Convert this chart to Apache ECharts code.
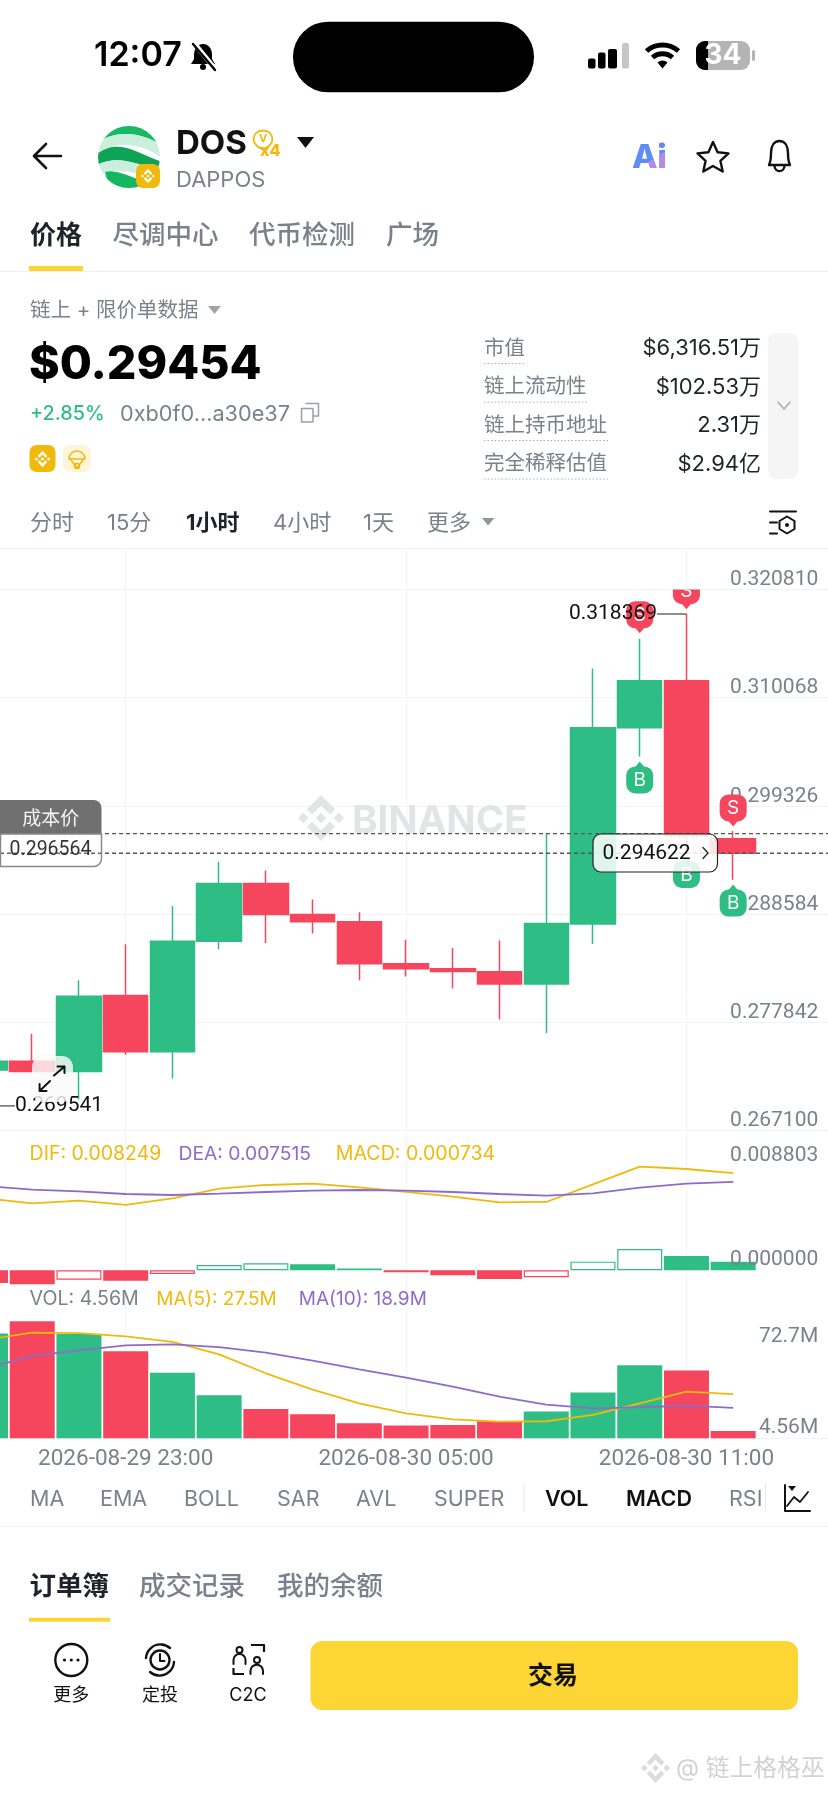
<!DOCTYPE html>
<html><head><meta charset="utf-8">
<style>html,body{margin:0;padding:0;background:#fff}#c{width:828px;height:1795px}</style>
<script src="https://cdn.jsdelivr.net/npm/echarts@6/dist/echarts.min.js"></script>
</head><body><div id="c"></div>
<script>
const categories = ['2026-08-29 20:00','2026-08-29 21:00','2026-08-29 22:00','2026-08-29 23:00','2026-08-30 00:00','2026-08-30 01:00','2026-08-30 02:00','2026-08-30 03:00','2026-08-30 04:00','2026-08-30 05:00','2026-08-30 06:00','2026-08-30 07:00','2026-08-30 08:00','2026-08-30 09:00','2026-08-30 10:00','2026-08-30 11:00','2026-08-30 12:00','2026-08-30 13:00','2026-08-30 14:00','2026-08-30 15:00'];
const dateLabelIdx = [3,9,15];
const open  = [.273098,.273971,.272946,.2805,.27492,.28589,.291622,.288547,.287826,.28365,.283157,.282853,.281639,.287598,.307072,.311741,.296063];
const close = [.273971,.272946,.280424,.27492,.28589,.291622,.288547,.287826,.28365,.283157,.282891,.281639,.287636,.307072,.311741,.296329,.294622];
const low   = [.269541,.272946,.270175,.274616,.272263,.285093,.2857,.286649,.282018,.282398,.281183,.278108,.27678,.285624,.304225,.294735,.292002];
const high  = [.2745,.276704,.282018,.285587,.289383,.293786,.292913,.290028,.288775,.286042,.285207,.285966,.296557,.312956,.315917,.318369,.296823];
const priceTicks = [0.2671,0.277842,0.288584,0.299326,0.310068,0.32081];
const costPrice = 0.296564, lastPrice = 0.294622;
const sellIdx = [14,15,16], sellTip = [.316448,.31884,.297278];
const buyIdx = [14,15,16], buyTip = [.303731,.294355,.291508];
const extremes = [[15,0.318369,-1],[0,0.269541,1]];
const dif = [.006117,.005692,.005919,.005551,.006117,.006938,.00725,.007363,.007052,.006655,.006259,.005777,.005806,.007307,.008803,.008609,.008249];
const dea = [.007165,.006853,.006712,.006485,.0064,.006514,.006655,.006768,.006825,.006768,.006655,.006485,.006344,.006542,.007023,.007363,.007515];
const hist = [-.001076,-.001189,-.000793,-.000878,-.000312,.000453,.000595,.00051,.000142,-.00017,-.000425,-.000736,-.000595,.000736,.001812,.001218,.000734];
const macdTicks = [0,0.008803];
const vol = [65.2,72.7,64.8,54.1,40.8,26.7,18.2,14.9,9.3,7.9,8.3,10.6,16.6,28.4,45.4,42.2,4.56];
const ma5 = [61.1,65.7,65.4,63.4,59.9,52.2,40.4,30.2,21.7,15.5,11.8,10.4,10.6,14.5,21.7,29.0,27.5];
const ma10 = [43.3,51.2,54.7,57.8,58.4,56.7,53.2,48.3,42.9,37.7,32.1,25.9,20.9,18.6,19.3,20.3,18.9];
const volTickText = ['72.7M','4.56M'];
const volTickAt = [63.2,6.6];

const GREEN='#2EBD85', RED='#F6465D', YEL='#F0B90B', PUR='#8E6BCB', GRAY='#7b818b', LINE='#f2f3f5', BRAND='#FCD535';
const FF='Inter,"Noto Sans CJK SC",sans-serif';
const FN='Roboto,Inter,sans-serif';
const BNB='M38.73 53.2L63.3 28.63l24.58 24.58 14.3-14.3L63.3 0 24.43 38.9zM0 63.3l14.3-14.3 14.3 14.3-14.3 14.3zM38.73 73.41L63.3 97.98l24.58-24.57 14.3 14.29-38.88 38.88-38.87-38.87-.02-.02zM98 63.31l14.3-14.3 14.3 14.3-14.3 14.3zM77.83 63.3L63.3 48.78 52.57 59.51l-1.24 1.23-2.54 2.54 14.5 14.51 14.53-14.51z';

const T=(text,x,y,size,fill,o={})=>({type:'text',z2:o.z2||0,style:{text,x,y,fontSize:size,fontFamily:o.f||FF,fontWeight:o.w||400,fill,align:o.a||'left',textAlign:o.a||'left',verticalAlign:'middle',textVerticalAlign:'middle',stroke:o.stroke,lineWidth:o.lw||0,opacity:o.op==null?1:o.op}});
const R=(x,y,w,h,r,fill,o={})=>({type:'rect',shape:{x,y,width:w,height:h,r},style:{fill,stroke:o.stroke,lineWidth:o.lw||0,shadowBlur:o.sb||0,shadowColor:o.sc||'transparent'}});
const P=(d,o={})=>({type:'path',shape:{pathData:d},style:{fill:o.fill||'none',stroke:o.stroke,lineWidth:o.lw||1,lineCap:o.cap||'round',lineJoin:'round',lineDash:o.dash,opacity:o.op==null?1:o.op}});
const PB=(d,x,y,w,h,fill)=>({type:'path',shape:{pathData:d,x,y,width:w,height:h,layout:'cover'},style:{fill}});
const C=(cx,cy,r,o={})=>({type:'circle',shape:{cx,cy,r},style:{fill:o.fill||'none',stroke:o.stroke,lineWidth:o.lw||1}});
const DOT=(x,w,y)=>P(`M${x} ${y}H${x+w}`,{stroke:'#aab0b8',lw:1,dash:[1.5,2],cap:'butt'});

function backChrome(){
  return [
    PB(BNB,298,795,46,46,'#e3e4e6'),
    T('BINANCE',352,821,38.5,'#e3e4e6',{w:700})
  ];
}
function frontChrome(){
  const k=[];
  // status bar
  k.push(T('12:07',94,56,34,'#000',{w:600}));
  k.push(P('M203 44c-6 0-9 5-9 11v4l-3 5h24l-3-5v-4c0-6-3-11-9-11z',{fill:'#000'}),C(203,67,3,{fill:'#000'}),
    P('M194 43L216 70',{stroke:'#fff',lw:5}),P('M193 44L215 70',{stroke:'#000',lw:2.4}));
  k.push(R(293,21.7,241,70.6,35,'#000'));
  k.push(R(588,58.5,7.5,10,2,'#000'),R(598,52.5,7.5,16,2,'#000'),R(608,49,9,19.5,2,'#000'),R(622,43,7,25.5,2,'#c6c6c8'));
  k.push(P('M646.5 51A24 24 0 0 1 678.5 51',{stroke:'#000',lw:5,cap:'butt'}),P('M652.5 57.5A15 15 0 0 1 672.5 57.5',{stroke:'#000',lw:5,cap:'butt'}),P('M657.5 62.5A7.5 7.5 0 0 1 667.5 62.5L662.5 68.5Z',{fill:'#000'}));
  k.push(R(696,41,54,29,9,'#b4b4b4'),R(752,50,3,11,1.5,'#b4b4b4'),P('M708 41H705A9 9 0 0 0 696 50V61A9 9 0 0 0 705 70H708Z',{fill:'#000'}));
  k.push(T('34',723,56,28,'#fff',{w:700,a:'center'}));
  // header
  k.push(P('M61 156H35M46 144L34 156L46 168',{stroke:'#111',lw:2.6}));
  k.push({type:'group',clipPath:{type:'circle',shape:{cx:129,cy:157,r:31}},children:[
    R(97,125,64,64,0,'#ffffff'),
    P('M97 135C110 120 146 120 162 140V146C146 134 118 128 97 143Z',{fill:'#18b964'}),
    P('M97 143C118 128 146 134 162 146V158C146 146 118 138 97 154Z',{fill:'#cbefdd'}),
    P('M97 154C118 138 135 152 162 162V172C138 164 118 154 97 165Z',{fill:'#0ea455'}),
    P('M97 165C118 154 138 164 162 172V178C138 176 118 164 97 176Z',{fill:'#cbefdd'}),
    P('M105 172C118 168 134 180 150 182L140 192H110Z',{fill:'#14b65f'})
  ]});
  k.push(R(136,164,24,24,7,YEL),PB(BNB,141,169,14,14,'#fff'));
  k.push(T('DOS',176,144,33,'#111',{w:700}));
  k.push(P('M263 130.5c6 0 9.5 4 9.5 8.5c0 5-5 9-9.5 10c-4.500-1-9.500-5-9.500-10c0-4.500 3.500-8.500 9.500-8.500z',{stroke:YEL,lw:1.8}));
  k.push(T('V',263,139,11,YEL,{w:700,a:'center'}),T('x4',260,151,16,YEL,{w:800}));
  k.push(P('M297 137H314L305.500 148Z',{fill:'#111'}));
  k.push(T('DAPPOS',176,180.500,22,GRAY));
  k.push(T('Ai',632,158,33,'#5d8cf7',{w:800}));
  k.push({type:'group',clipPath:{type:'polygon',shape:{points:[[632,172],[668,150],[668,175],[632,175]]}},children:[T('Ai',632,158,33,'#b58be8',{w:800})]});
  k.push(P('M659 142l1.500 2.500 2.500-2.500-1 3.500 1 3-2.500-2-2 2 .7-3z',{fill:'#6f7ff0'}));
  k.push(P('M713 142L717.600 152.200L728.500 153.400L720.400 160.800L722.700 171.500L713 166L703.300 171.500L705.600 160.800L697.500 153.400L708.400 152.200Z',{stroke:'#111',lw:2.4}));
  k.push(P('M769 165C771 161 771 157 771 153C771 146 774 141 779.500 141C785 141 788 146 788 153C788 157 788 161 790 165Z',{stroke:'#111',lw:2.4}),P('M774.500 165.500C774.500 173 784.500 173 784.500 165.500',{stroke:'#111',lw:2.4}));
  // tabs
  k.push(T('价格',30,236,26,'#1e2329',{w:700}),T('尽调中心',112.500,236,26.500,GRAY,{w:500}),T('代币检测',249,236,26.500,GRAY,{w:500}),T('广场',386,236,26.500,GRAY,{w:500}));
  k.push(R(29,266,54,5,0,BRAND),R(0,271,828,1,0,'#eef0f2'));
  // price block
  k.push(T('链上 + 限价单数据',30,311,20.500,GRAY),P('M208 306H221L214.500 314Z',{fill:'#a0a5ad'}));
  k.push(T('$0.29454',29,365,46.500,'#000',{w:800}));
  k.push(T('+2.85%',30,414,19.800,GREEN,{w:500}),T('0xb0f0...a30e37',120,414,21.700,GRAY));
  k.push(P('M306 403.500H318.500V416H313M301.500 408.500H313V422H301.500Z',{stroke:'#9aa0a8',lw:1.5}));
  k.push(R(29.500,445,26,27,7,YEL),PB(BNB,34.500,451,16,16,'#fff'));
  k.push(R(63,445,28,27,7,'#fdf5d9'),P('M69 459A8 8 0 0 1 85 459H69ZM71 460L77 468L83 460',{stroke:YEL,lw:1.5}),C(77,466,2.500,{stroke:YEL,lw:1.5}));
  const rows=[['市值','$6,316.51万',348.500,41],['链上流动性','$102.53万',387.200,105],['链上持币地址','2.31万',425.500,126],['完全稀释估值','$2.94亿',464,126]];
  rows.forEach(r=>{k.push(T(r[0],484,r[2],20.500,GRAY),T(r[1],761,r[2],22,'#1e2329',{a:'right'}),DOT(484,r[3],r[2]+15));});
  k.push(R(768,333,30,146,8,'#f5f5f5'),P('M778 402L784 409L790 402',{stroke:'#a5aab2',lw:1.4}));
  // time tabs
  k.push(T('分时',30,523.500,22,GRAY),T('15分',107,523.500,22,GRAY),T('1小时',186,523.500,22,'#1e2329',{w:700}),T('4小时',273,523.500,22,GRAY),T('1天',363,523.500,22,GRAY),T('更多',427,523.500,22,GRAY),P('M482 518H494.500L488 525.500Z',{fill:'#8f959d'}));
  k.push(P('M770 511.500H796M770 522.500H777M770 533.500H777',{stroke:'#111',lw:2}),P('M787 516.500L794.500 521V529L787 533.500L779.500 529V521Z',{stroke:'#111',lw:2}),C(787,525,2,{fill:'#111'}));
  // overlays on chart
  k.push(R(0,800,101.500,34,[0,8,0,0],'#707070'),T('成本价',50.700,819,19,'#f5f5f5',{a:'center'}));
  k.push(R(.5,834,101,32.500,[0,0,8,0],'rgba(255,255,255,.1)',{stroke:'#8a8a8a',lw:1.500}));
  k.push(T(costPrice.toFixed(6),50.500,850,19.500,'#333',{a:'center',f:FN}));
  k.push(R(593,834,124.500,38,8,'rgba(255,255,255,.85)',{stroke:'#222',lw:1.200}));
  k.push(T(lastPrice.toFixed(6),602.500,854,21,'#111',{f:FN}),P('M703 847.500L708 853L703 858.500',{stroke:'#222',lw:1.300}));
  k.push(R(32,1056,41,46,11,'rgba(255,255,255,.8)',{sb:3,sc:'rgba(0,0,0,.10)'}));
  k.push(P('M64.500 1066.500L54 1075.500M57.500 1066.500H64.500V1073',{stroke:'#111',lw:2}),P('M39.600 1091L50 1081M39.600 1084V1091H46.500',{stroke:'#111',lw:2}));
  // legends
  k.push(T('DIF: '+dif[16].toFixed(6),29.600,1154,19.500,YEL),T('DEA: '+dea[16].toFixed(6),178.500,1154,19.300,PUR),T('MACD: '+hist[16].toFixed(6),335.800,1154,19.600,YEL));
  k.push(T('VOL: '+volTickText[1],29.600,1299,19.600,GRAY),T('MA(5): '+ma5[16].toFixed(1)+'M',156.300,1299,19,YEL),T('MA(10): '+ma10[16].toFixed(1)+'M',298.800,1299,19,PUR));
  // indicator tabs
  [['MA',30],['EMA',100],['BOLL',184],['SAR',277],['AVL',356],['SUPER',434],['RSI',729]].forEach(a=>k.push(T(a[0],a[1],1499.500,21.500,GRAY)));
  k.push(T('VOL',545,1499.500,21.500,'#111',{w:600}),T('MACD',626,1499.500,21.500,'#111',{w:600}));
  k.push(R(523.500,1484,1,28,0,'#e6e8ea'),R(765,1484,1,28,0,'#e6e8ea'));
  k.push(P('M785 1485V1511H810',{stroke:'#111',lw:2}),P('M787 1506L794 1497L800 1502L808 1492',{stroke:'#111',lw:1.800}),P('M788 1486H796L792 1491Z',{fill:'#111'}));
  k.push(R(0,1526,828,1,0,'#f1f2f4'));
  // order tabs
  k.push(T('订单簿',29.600,1587,26.500,'#1e2329',{w:700}),T('成交记录',139,1587,26.500,GRAY,{w:500}),T('我的余额',277,1587,26.500,GRAY,{w:500}));
  k.push(R(29,1617.700,81,4,0,BRAND));
  // bottom buttons
  k.push(C(71.300,1660,16,{stroke:'#111',lw:2.400}),C(64.500,1660,1.600,{fill:'#111'}),C(71.300,1660,1.600,{fill:'#111'}),C(78,1660,1.600,{fill:'#111'}));
  k.push(T('更多',71.300,1696,18,'#111',{a:'center'}),T('定投',160,1696,18,'#111',{a:'center'}),T('C2C',248,1696,18,'#111',{a:'center'}));
  k.push(C(160,1660,9.500,{stroke:'#111',lw:2.400}),P('M160 1654V1661H164.500',{stroke:'#111',lw:2}),P('M146 1658A14.500 14.500 0 0 1 170 1648M174 1662A14.500 14.500 0 0 1 150 1672',{stroke:'#111',lw:2.400}));
  k.push(C(239.500,1650,3,{stroke:'#111',lw:2}),P('M233.500 1664V1660A6 6 0 0 1 245.500 1660V1664',{stroke:'#111',lw:2}),C(257,1660,3,{stroke:'#111',lw:2}),P('M250.500 1674V1671A6 6 0 0 1 263 1671V1674',{stroke:'#111',lw:2}));
  k.push(P('M251 1645H264V1652M233.500 1668V1674H244',{stroke:'#111',lw:2.200,cap:'butt'}));
  k.push(R(310.500,1641,487.500,69,12,'#FDD535'),T('交易',553,1676,25,'#111',{w:700,a:'center'}));
  // footer watermark
  k.push(PB(BNB,641,1753,29,30,'#dcdcdc'),T('@ 链上格格巫',676,1769,23.800,'#d2d2d2',{stroke:'#fff',lw:.5}));
  return k;
}
function markerItem(letter,color,dir){
  return function(params,api){
    const p=api.coord([api.value(0),api.value(1)]);
    const cs=params.coordSys, w=27, h=27, tip=5, x=p[0]-w/2;
    const top=dir<0 ? p[1]-tip-h : p[1]+tip;
    const base=dir<0 ? p[1]-tip : p[1]+tip;
    return {type:'group',clipPath:{type:'rect',shape:{x:cs.x,y:cs.y,width:cs.width,height:cs.height}},children:[
      {type:'polygon',shape:{points:[[p[0],p[1]],[p[0]-5,base+(dir<0?-1:1)],[p[0]+5,base+(dir<0?-1:1)]]},style:{fill:color}},
      {type:'rect',shape:{x,y:top,width:w,height:h,r:9},style:{fill:color}},
      {type:'text',style:{text:letter,x:p[0],y:top+h/2+.5,fontSize:19,fontFamily:FF,fill:'#fff',align:'center',textAlign:'center',verticalAlign:'middle',textVerticalAlign:'middle'}}
    ]};
  };
}
const fullW=934.6, leftX=-37.87;
const grids=[
 {left:leftX,width:fullW,top:548,height:890.3,outerBoundsMode:'none'},
 {left:leftX,width:fullW,top:589.4,height:541.1,outerBoundsMode:'none'},
 {left:leftX,width:fullW,top:1130.5,height:153.8,outerBoundsMode:'none'},
 {left:leftX,width:fullW,top:1284.3,height:154,outerBoundsMode:'none'}
];
const showDate=i=>dateLabelIdx.includes(i);
const hiddenX=g=>({type:'category',gridIndex:g,data:categories,show:false});
const lab={inside:true,margin:78.5,color:GRAY,fontSize:21,fontFamily:FN};
const chart=echarts.init(document.getElementById('c'),null,{width:828,height:1795});
chart.setOption({
 animation:false,backgroundColor:'#fff',
 grid:grids,
 xAxis:[
  {type:'category',gridIndex:0,data:categories,axisLine:{show:false},
   axisTick:{show:true,inside:true,length:890.3,alignWithLabel:true,interval:showDate,lineStyle:{color:LINE,width:1}},
   axisLabel:{show:true,interval:showDate,color:GRAY,fontSize:22.500,fontFamily:FN,margin:9.500}},
  hiddenX(1),hiddenX(2),hiddenX(3)
 ],
 yAxis:[
  {type:'value',gridIndex:0,min:0,max:1,interval:1,show:true,position:'right',axisLine:{show:false},axisTick:{show:false},axisLabel:{show:false},splitLine:{show:true,lineStyle:{color:LINE}}},
  {type:'value',gridIndex:1,position:'right',min:priceTicks[0],max:priceTicks[5],axisLine:{show:false},
   axisTick:{show:false,customValues:priceTicks},splitLine:{show:true,lineStyle:{color:LINE}},
   axisLabel:Object.assign({},lab,{customValues:priceTicks,verticalAlign:'bottom',lineHeight:19,formatter:v=>Number(v).toFixed(6)})},
  {type:'value',gridIndex:2,position:'right',z:5,min:-0.00119,max:0.011879,axisLine:{show:false},
   axisTick:{show:false,customValues:macdTicks},splitLine:{show:false},
   axisLabel:Object.assign({},lab,{customValues:macdTicks,verticalAlign:'bottom',lineHeight:19,padding:[0,0,1.500,0],formatter:v=>Number(v).toFixed(6)})},
  {type:'value',gridIndex:3,position:'right',min:0,max:95.7,axisLine:{show:false},
   axisTick:{show:false,customValues:volTickAt},splitLine:{show:false},
   axisLabel:Object.assign({},lab,{customValues:volTickAt,verticalAlign:'middle',formatter:v=>volTickText[volTickAt.indexOf(Number(v))]})}
 ],
 series:[
  {type:'custom',coordinateSystem:'none',z:1,silent:true,data:[[0]],renderItem:()=>({type:'group',children:backChrome()})},
  {type:'candlestick',name:'K',xAxisIndex:1,yAxisIndex:1,barWidth:45,z:3,
   data:open.map((o,i)=>[o,close[i],low[i],high[i]]),
   itemStyle:{color:GREEN,color0:RED,borderColor:GREEN,borderColor0:RED,borderWidth:1.500}},
  {type:'custom',name:'priceLines',xAxisIndex:1,yAxisIndex:1,z:4,silent:true,data:[[0,costPrice],[0,lastPrice]],
   renderItem:(params,api)=>{
     const y=api.coord([0,api.value(1)])[1],cs=params.coordSys;
     return {type:'line',shape:{x1:0,y1:y,x2:cs.x+cs.width,y2:y},style:{stroke:'#555',lineWidth:1.300,lineDash:[4,3]}};
   }},
  {type:'custom',name:'S',xAxisIndex:1,yAxisIndex:1,z:4,data:sellIdx.map((x,i)=>[x,sellTip[i]]),renderItem:markerItem('S',RED,-1)},
  {type:'custom',name:'B',xAxisIndex:1,yAxisIndex:1,z:4,data:buyIdx.map((x,i)=>[x,buyTip[i]]),renderItem:markerItem('B',GREEN,1)},
  {type:'custom',name:'extremes',xAxisIndex:1,yAxisIndex:1,z:5,data:extremes,
   renderItem:(params,api)=>{
     const idx=api.value(0),val=api.value(1),dir=api.value(2),p=api.coord([idx,val]);
     const ex=p[0]+dir*29.4;
     return {type:'group',children:[
       {type:'line',shape:{x1:p[0],y1:p[1],x2:ex,y2:p[1]},style:{stroke:'#444',lineWidth:1.200}},
       {type:'text',style:{text:val.toFixed(6),x:ex,y:p[1],fontSize:21,fontFamily:FN,fill:'#111',align:dir>0?'left':'right',textAlign:dir>0?'left':'right',verticalAlign:'middle',textVerticalAlign:'middle'}}
     ]};
   }},
  {type:'bar',name:'MACD',xAxisIndex:2,yAxisIndex:2,barWidth:45,z:2,
   data:hist.map((h,i)=>{const c=h>=0?GREEN:RED,holl=i>0&&h>hist[i-1];
     return {value:h,itemStyle:holl?{color:'#fff',borderColor:c,borderWidth:1.200}:{color:c}};})},
  {type:'line',name:'DIF',xAxisIndex:2,yAxisIndex:2,data:dif,showSymbol:false,lineStyle:{color:YEL,width:1.800},z:3},
  {type:'line',name:'DEA',xAxisIndex:2,yAxisIndex:2,data:dea,showSymbol:false,lineStyle:{color:PUR,width:1.800},z:3},
  {type:'bar',name:'VOL',xAxisIndex:3,yAxisIndex:3,barWidth:45,z:2,
   data:vol.map((v,i)=>({value:v,itemStyle:{color:close[i]>=open[i]?GREEN:RED}}))},
  {type:'line',name:'MA5',xAxisIndex:3,yAxisIndex:3,data:ma5,showSymbol:false,lineStyle:{color:YEL,width:1.800},z:3},
  {type:'line',name:'MA10',xAxisIndex:3,yAxisIndex:3,data:ma10,showSymbol:false,lineStyle:{color:PUR,width:1.800},z:3},
  {type:'custom',coordinateSystem:'none',z:20,silent:true,data:[[0]],renderItem:()=>({type:'group',children:frontChrome()})}
 ]
});
</script></body></html>
